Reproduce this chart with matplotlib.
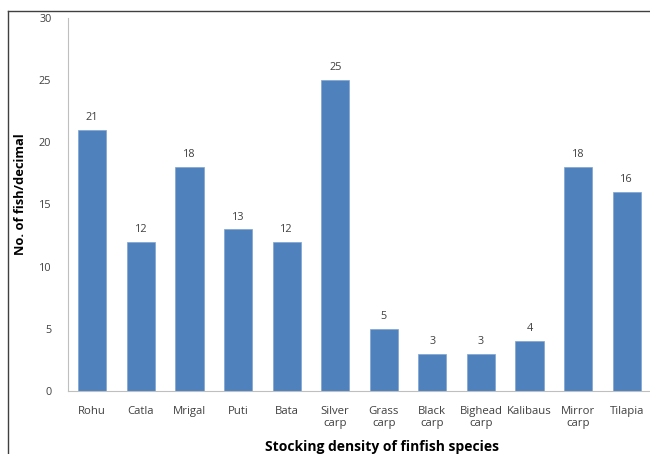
import numpy as np
import matplotlib.pyplot as plt
from matplotlib.lines import Line2D

species = ['Rohu', 'Catla', 'Mrigal', 'Puti', 'Bata', 'Silver\ncarp', 'Grass\ncarp',
           'Black\ncarp', 'Bighead\ncarp', 'Kalibaus', 'Mirror\ncarp', 'Tilapia']
density = [21, 12, 18, 13, 12, 25, 5, 3, 3, 4, 18, 16]
yticks = [0, 5, 10, 15, 20, 25, 30]

plt.rcParams['font.family'] = ['Open Sans', 'DejaVu Sans']

fig = plt.figure(figsize=(6.5, 4.54), dpi=100)
ax = fig.add_axes([0.1046, 0.1388, 0.8969, 0.8216])

x = np.arange(len(species))
bars = ax.bar(x, density, width=0.58, color='#4F81BD', edgecolor='#7FA3D0', linewidth=0.5)

for xi, v in zip(x, density):
    ax.text(xi, v + 0.55, str(v), ha='center', va='bottom', fontsize=7.8, color='#404040')

ax.set_xlim(-0.5, len(species) - 0.5)
ax.set_ylim(0, 30)
ax.set_yticks(yticks)
ax.set_xticks(x)
ax.set_xticklabels(species, fontsize=8.2, color='#404040', linespacing=1.2)
ax.tick_params(axis='y', labelsize=7.8, labelcolor='#404040', length=0, pad=12)
ax.tick_params(axis='x', length=0, pad=10.5)

for s in ['top', 'right']:
    ax.spines[s].set_visible(False)
ax.spines['left'].set_color('#BFBFBF')
ax.spines['bottom'].set_color('#BFBFBF')

fig.text(0.031, 0.573, 'No. of fish/decimal', rotation=90, ha='center', va='center',
         fontsize=9.3, fontweight='bold')
fig.text(0.588, 0.016, 'Stocking density of finfish species', ha='center', va='center',
         fontsize=10, fontweight='bold')

# outer frame (left and top edges visible)
fig.add_artist(Line2D([8 / 650, 8 / 650], [0, 1 - 11 / 454], transform=fig.transFigure,
                      color='#404040', linewidth=1))
fig.add_artist(Line2D([8 / 650, 1], [1 - 11 / 454, 1 - 11 / 454], transform=fig.transFigure,
                      color='#404040', linewidth=1))

fig.savefig('out.png', dpi=100)
